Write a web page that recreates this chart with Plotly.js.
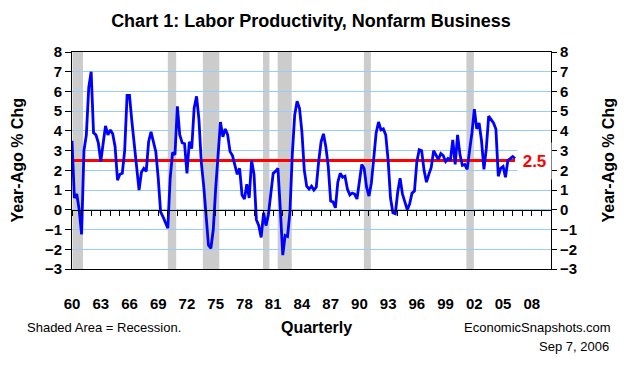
<!DOCTYPE html>
<html>
<head>
<meta charset="utf-8">
<script src="https://cdn.plot.ly/plotly-3.0.1.min.js"></script>
<style>html,body{margin:0;padding:0;background:#fff;}#chart{width:625px;height:370px;}</style>
</head>
<body>
<div id="chart"></div>
<script>
// Quarterly series, first quarter = 1960 Q1
const startYear = 1960;
const productivity = [
  3.5, 0.6, 0.8, 0.0,
  -1.25, 3.0, 3.8, 6.2,
  7.0, 3.9, 3.8, 3.4,
  2.45, 3.3, 4.25, 3.8,
  4.05, 3.85, 3.2, 1.5,
  1.8, 1.85, 3.0, 5.8,
  5.8, 4.5, 3.3, 2.0,
  1.0, 1.9, 2.1, 1.95,
  3.45, 3.95, 3.4, 2.95,
  1.6, -0.1, -0.35, -0.6,
  -0.93, 1.6, 2.9, 2.8,
  5.25, 3.8, 3.4, 3.35,
  1.85, 3.45, 3.1, 5.15,
  5.75, 4.6, 2.4, 1.2,
  -0.5, -1.8, -1.95, -1.0,
  1.1, 3.0, 4.45, 3.7,
  4.1, 3.8, 2.95, 2.75,
  2.2, 1.8, 2.1, 0.75,
  0.55, 1.3, 0.6, 2.5,
  1.8, -0.5, -0.8, -1.4,
  -0.15, -0.8, -0.25, 0.95,
  1.85, 1.95, 2.1, 0.0,
  -2.3, -1.3, -1.35, -0.1,
  2.85, 4.8, 5.5, 5.15,
  3.95, 2.0, 1.2, 1.05,
  1.2, 1.0, 1.15, 2.45,
  3.45, 3.85, 3.2, 2.2,
  0.45, 0.4, 0.1, 1.4,
  1.85, 1.65, 1.7, 1.05,
  0.75, 0.85, 0.8, 0.55,
  1.6, 2.3, 2.1, 1.15,
  0.7, 1.35, 2.6, 3.9,
  4.45, 4.05, 4.1, 3.8,
  2.5, 0.6, -0.15, -0.2,
  0.9, 1.6, 0.8, 0.4,
  0.0, 0.3, 0.85, 0.95,
  2.45, 3.05, 3.0, 2.0,
  1.4, 1.8, 2.15, 3.0,
  2.8, 2.55, 2.85, 2.75,
  2.45, 2.6, 2.5, 3.55,
  2.3, 3.8, 2.8, 2.25,
  2.3, 2.05, 3.0, 3.9,
  5.1, 4.1, 4.4, 3.5,
  2.05, 3.1, 4.75, 4.6,
  4.4, 4.1, 1.7, 2.1,
  2.2, 1.65, 2.5, 2.6,
  2.7, 2.6
];
const referenceLevel = 2.5;
const referenceLabel = '2.5';
const recessionStart = ['1960-01-22', '1970-01-01', '1973-08-29', '1979-12-09', '1981-06-21', '1990-06-21', '2001-03-03'];
const recessionEnd   = ['1961-02-24', '1970-11-17', '1975-05-19', '1980-08-11', '1982-12-09', '1991-03-14', '2001-12-13'];
const xRange = ['1960-01-01', '2010-01-01'];
const yRange = [-3, 8];

const chartTitle = 'Chart 1: Labor Productivity, Nonfarm Business';
const yTitle = 'Year-Ago % Chg';
const xTitle = 'Quarterly';
const noteLeft = 'Shaded Area = Recession.';
const noteSource = 'EconomicSnapshots.com';
const noteDate = 'Sep 7, 2006';

// quarter dates
const quarterDates = productivity.map((v, i) => {
  const y = startYear + Math.floor(i / 4);
  const m = 1 + 3 * (i % 4);
  return y + '-' + String(m).padStart(2, '0') + '-01';
});

const FONT = 'Liberation Sans, Arial, sans-serif';
const boldFont = (size, color) => ({family: FONT, size: size, color: color || '#000', weight: 'bold'});

const traces = [
  {
    x: [quarterDates[0], quarterDates[quarterDates.length - 1]],
    y: [referenceLevel, referenceLevel],
    xaxis: 'x', yaxis: 'y',
    mode: 'lines', line: {color: '#FF0000', width: 3},
    hoverinfo: 'skip', showlegend: false
  },
  {
    x: quarterDates, y: productivity,
    xaxis: 'x2', yaxis: 'y2',
    mode: 'lines', line: {color: '#0000FF', width: 2.8},
    showlegend: false
  }
];

const shapes = recessionStart.map((s, k) => ({
  type: 'rect', xref: 'x', yref: 'paper',
  x0: s, x1: recessionEnd[k], y0: 0, y1: 1,
  fillcolor: '#CCCCCC', line: {width: 0}, layer: 'between'
}));

const zeroPos = (0 - yRange[0]) / (yRange[1] - yRange[0]);
const plotL = 72, plotR = 551, plotT = 52, plotB = 269;
const pw = plotR - plotL, ph = plotB - plotT;
const px = x => (x - plotL) / pw;
const py = y => (plotB - y) / ph;

const layout = {
  width: 625, height: 370,
  margin: {l: plotL, r: 625 - plotR, t: plotT, b: 370 - plotB, pad: 0},
  paper_bgcolor: '#FFFFFF', plot_bgcolor: '#FFFFFF',
  showlegend: false,
  title: {text: chartTitle, font: boldFont(18), xref: 'container', yref: 'container', x: 311 / 625, y: 1 - 21 / 370, xanchor: 'center', yanchor: 'middle'},
  xaxis: {
    type: 'date', range: xRange, tick0: '1960-01-01', dtick: 'M36', tickformat: '%y',
    showgrid: false, zeroline: false, showline: true, mirror: true, linecolor: '#000', linewidth: 1,
    ticks: '', ticklabelstandoff: 21, tickfont: boldFont(15), fixedrange: true
  },
  xaxis2: {
    type: 'date', range: xRange, overlaying: 'x', anchor: 'free', position: zeroPos,
    tick0: '1960-01-01', dtick: 'M12', ticks: 'outside', ticklen: 5, tickcolor: '#000', tickwidth: 1,
    showticklabels: false, showgrid: false, zeroline: false, showline: true, linecolor: '#000', linewidth: 1
  },
  yaxis: {
    range: yRange, tick0: 0, dtick: 1, showgrid: true, gridcolor: '#99CCFF', gridwidth: 1,
    zeroline: false, showline: true, linecolor: '#000', linewidth: 1,
    ticks: 'outside', ticklen: 6, tickcolor: '#000', tickfont: boldFont(15)
  },
  yaxis2: {
    range: yRange, tick0: 0, dtick: 1, overlaying: 'y', side: 'right', anchor: 'x',
    showgrid: false, zeroline: false, showline: true, linecolor: '#000', linewidth: 1,
    ticks: 'outside', ticklen: 5, tickcolor: '#000', tickfont: boldFont(15)
  },
  shapes: shapes,
  annotations: [
    {xref: 'paper', yref: 'y2', x: px(534), y: referenceLevel, text: referenceLabel, showarrow: false,
     font: boldFont(17, '#FF0000'), bgcolor: '#FFFFFF', width: 31, height: 34, xanchor: 'center', yanchor: 'middle'},
    {xref: 'paper', yref: 'paper', x: px(17), y: 0.5, text: yTitle, textangle: -90, showarrow: false,
     font: boldFont(16), xanchor: 'center', yanchor: 'middle'},
    {xref: 'paper', yref: 'paper', x: px(608), y: 0.5, text: yTitle, textangle: -90, showarrow: false,
     font: boldFont(16), xanchor: 'center', yanchor: 'middle'},
    {xref: 'paper', yref: 'paper', x: px(316), y: py(327), text: xTitle, showarrow: false,
     font: boldFont(16), xanchor: 'center', yanchor: 'middle'},
    {xref: 'paper', yref: 'paper', x: px(25), y: py(327), text: noteLeft, showarrow: false,
     font: {family: FONT, size: 13, color: '#000'}, xanchor: 'left', yanchor: 'middle'},
    {xref: 'paper', yref: 'paper', x: px(613), y: py(327), text: noteSource, showarrow: false,
     font: {family: FONT, size: 13, color: '#000'}, xanchor: 'right', yanchor: 'middle'},
    {xref: 'paper', yref: 'paper', x: px(574), y: py(346), text: noteDate, showarrow: false,
     font: {family: FONT, size: 13, color: '#000'}, xanchor: 'center', yanchor: 'middle'}
  ]
};

Plotly.newPlot('chart', traces, layout, {displayModeBar: false, staticPlot: true});
</script>
</body>
</html>
